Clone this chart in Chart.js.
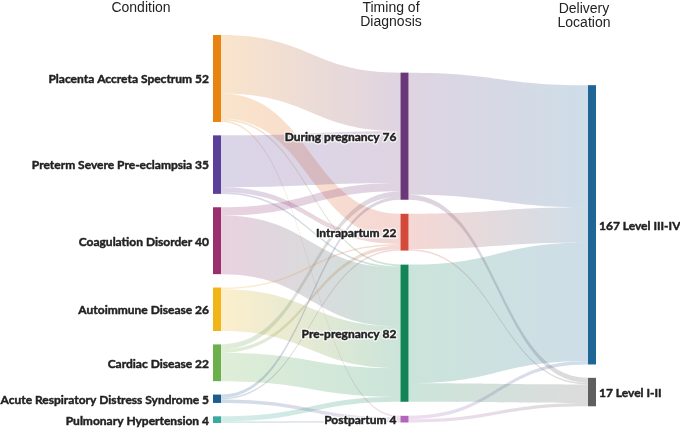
<!DOCTYPE html>
<html>
<head>
<meta charset="utf-8">
<script src="https://cdn.jsdelivr.net/npm/chart.js@4.4.1/dist/chart.umd.min.js"></script>
<style>
  html, body { margin: 0; padding: 0; background: #fff; }
</style>
</head>
<body>
<canvas id="chart" width="680" height="430"></canvas>
<script>
// nodes, one array per column
const conditions = ["Placenta Accreta Spectrum", "Preterm Severe Pre-eclampsia", "Coagulation Disorder",
  "Autoimmune Disease", "Cardiac Disease", "Acute Respiratory Distress Syndrome", "Pulmonary Hypertension"];
const timings = ["During pregnancy", "Intrapartum", "Pre-pregnancy", "Postpartum"];
const locations = ["Level III-IV", "Level I-II"];

const conditionColors = ["#e8830f", "#5a4099", "#9a2e6e", "#f2b517", "#6bb04a", "#1d5c8c", "#3aaa9c"];
const timingColors = ["#6a3878", "#d44a3a", "#128456", "#b266b8"];
const locationColors = ["#1f6696", "#5f5f5f"];

// flows: rows = condition, cols = timing
const conditionToTiming = [
  [35, 15, 1, 1],
  [31, 3, 1, 0],
  [5, 0, 35, 0],
  [0, 1, 25, 0],
  [3, 2, 17, 0],
  [2, 1, 0, 2],
  [0, 0, 3, 1]
];
// flows: rows = timing, cols = location
const timingToLocation = [
  [73, 3],
  [21, 1],
  [71, 11],
  [2, 2]
];

const columnTitles = [["Condition"], ["Timing of", "Diagnosis"], ["Delivery", "Location"]];

// layout settings (in value units)
const nodeGap = [8, 8.4, 8];
const columnTop = [0, 22.5, 30];
const nodeWidth = 8;
const linkAlpha = 0.22;

function sumRow(m, i) { return m[i].reduce((a, b) => a + b, 0); }
function sumCol(m, j) { return m.reduce((a, r) => a + r[j], 0); }

function stack(values, c) {
  let y = columnTop[c];
  return values.map(v => {
    const n = { y0: y, y1: y + v, value: v };
    y += v + nodeGap[c];
    return n;
  });
}

const columns = [
  { names: conditions, colors: conditionColors, nodes: stack(conditions.map((_, i) => sumRow(conditionToTiming, i)), 0) },
  { names: timings, colors: timingColors, nodes: stack(timings.map((_, j) => sumCol(conditionToTiming, j)), 1) },
  { names: locations, colors: locationColors, nodes: stack(locations.map((_, j) => sumCol(timingToLocation, j)), 2) }
];

// build links with offsets at both ends
function buildLinks(matrix, c) {
  const src = columns[c].nodes, dst = columns[c + 1].nodes;
  const outOff = src.map(n => n.y0);
  const inOff = dst.map(n => n.y0);
  const links = [];
  matrix.forEach((row, i) => {
    row.forEach((v, j) => {
      if (!v) return;
      links.push({ col: c, i, j, v, sy: outOff[i], ty: 0 });
      outOff[i] += v;
    });
  });
  for (let j = 0; j < dst.length; j++) {
    links.filter(l => l.j === j).sort((a, b) => a.i - b.i).forEach(l => {
      l.ty = inOff[j];
      inOff[j] += l.v;
    });
  }
  return links;
}
const links = buildLinks(conditionToTiming, 0).concat(buildLinks(timingToLocation, 1));

function rgba(hex, a) {
  const n = parseInt(hex.slice(1), 16);
  return `rgba(${n >> 16},${(n >> 8) & 255},${n & 255},${a})`;
}

const sankeyPlugin = {
  id: "sankey",
  afterDatasetsDraw(chart) {
    const ctx = chart.ctx;
    const xs = chart.scales.x, ys = chart.scales.y;
    ctx.save();

    // links
    links.forEach(l => {
      const x0 = xs.getPixelForValue(l.col) + nodeWidth;
      const x1 = xs.getPixelForValue(l.col + 1);
      const xm = (x0 + x1) / 2;
      const a0 = ys.getPixelForValue(l.sy), a1 = ys.getPixelForValue(l.sy + l.v);
      const b0 = ys.getPixelForValue(l.ty), b1 = ys.getPixelForValue(l.ty + l.v);
      const g = ctx.createLinearGradient(x0, 0, x1, 0);
      g.addColorStop(0, rgba(columns[l.col].colors[l.i], linkAlpha));
      g.addColorStop(1, rgba(columns[l.col + 1].colors[l.j], linkAlpha));
      ctx.fillStyle = g;
      ctx.beginPath();
      ctx.moveTo(x0, a0);
      ctx.bezierCurveTo(xm, a0, xm, b0, x1, b0);
      ctx.lineTo(x1, b1);
      ctx.bezierCurveTo(xm, b1, xm, a1, x0, a1);
      ctx.closePath();
      ctx.fill();
    });

    // nodes and labels
    ctx.font = "bold 12px Lato, sans-serif";
    ctx.textBaseline = "middle";
    columns.forEach((col, c) => {
      const x = xs.getPixelForValue(c);
      col.nodes.forEach((n, k) => {
        const top = ys.getPixelForValue(n.y0), bot = ys.getPixelForValue(n.y1);
        ctx.fillStyle = col.colors[k];
        ctx.fillRect(x, top, nodeWidth, bot - top);
        const ym = (top + bot) / 2 + 1;
        let text, tx;
        if (c === 2) {
          text = n.value + " " + col.names[k];
          ctx.textAlign = "left";
          tx = x + nodeWidth + 3;
        } else {
          text = col.names[k] + " " + n.value;
          ctx.textAlign = "right";
          tx = x - 4;
        }
        ctx.lineJoin = "round";
        ctx.lineWidth = 3;
        ctx.strokeStyle = "rgba(255,255,255,0.75)";
        ctx.strokeText(text, tx, ym);
        ctx.fillStyle = "#222";
        ctx.fillText(text, tx, ym);
        // a touch heavier, like the original's bold face
        ctx.lineWidth = 0.45;
        ctx.strokeStyle = "#222";
        ctx.strokeText(text, tx, ym);
      });
    });

    // column titles
    ctx.font = "14px 'Liberation Sans', Arial, sans-serif";
    ctx.textAlign = "center";
    ctx.fillStyle = "#222";
    const titleX = [141, 391, 584];
    const titleY = [8, 8, 9];
    columnTitles.forEach((lines, c) => {
      lines.forEach((t, r) => ctx.fillText(t, titleX[c], titleY[c] + r * 14));
    });
    ctx.restore();
  }
};

new Chart(document.getElementById("chart"), {
  type: "scatter",
  data: { datasets: [{ data: [] }] },
  options: {
    responsive: false,
    animation: false,
    devicePixelRatio: 1,
    layout: { padding: { left: 213, right: 92, top: 35, bottom: 7 } },
    scales: {
      x: { type: "linear", min: 0, max: 2, display: false },
      y: { type: "linear", min: 0, max: 232, reverse: true, display: false }
    },
    plugins: { legend: { display: false }, tooltip: { enabled: false } }
  },
  plugins: [sankeyPlugin]
});
</script>
</body>
</html>
